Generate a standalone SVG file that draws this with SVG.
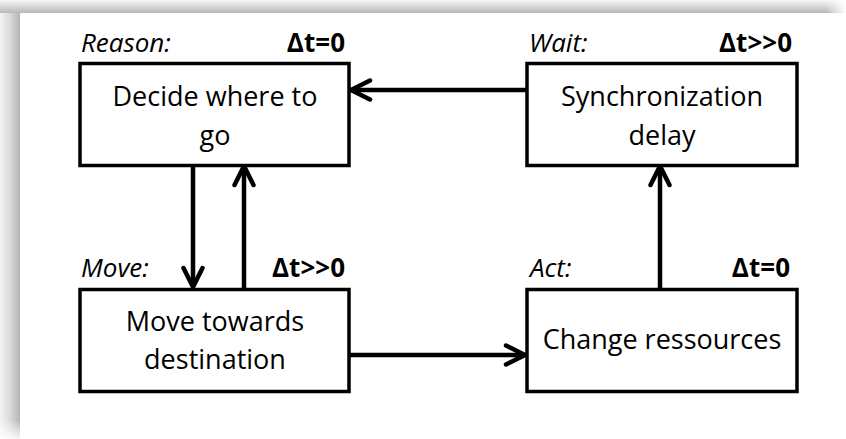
<svg xmlns="http://www.w3.org/2000/svg" width="846" height="439" viewBox="0 0 846 439">
  <defs>
    <linearGradient id="bandTop" x1="0" y1="0" x2="0" y2="1">
      <stop offset="0" stop-color="#f6f6f6"/>
      <stop offset="0.5" stop-color="#d8d8d8"/>
      <stop offset="1" stop-color="#b8b8b8"/>
    </linearGradient>
    <linearGradient id="bandLeft" x1="0" y1="0" x2="1" y2="0">
      <stop offset="0" stop-color="#f4f4f4"/>
      <stop offset="0.5" stop-color="#dadada"/>
      <stop offset="1" stop-color="#b4b4b4"/>
    </linearGradient>
    <linearGradient id="fadeRight" x1="0" y1="0" x2="1" y2="0">
      <stop offset="0" stop-color="#fff" stop-opacity="0"/>
      <stop offset="1" stop-color="#fff" stop-opacity="1"/>
    </linearGradient>
    <linearGradient id="fadeBottom" x1="0" y1="0" x2="0" y2="1">
      <stop offset="0" stop-color="#fff" stop-opacity="0"/>
      <stop offset="1" stop-color="#fff" stop-opacity="0.9"/>
    </linearGradient>
    <marker id="head" viewBox="-22 -12 24 24" markerWidth="24" markerHeight="24" refX="-1" refY="0" orient="auto" markerUnits="userSpaceOnUse">
      <path d="M-19,-9.5 L0,0 L-19,9.5" fill="none" stroke="#000" stroke-width="4.5" stroke-linecap="round" stroke-linejoin="round"/>
    </marker>
    <style>
      .box { fill: #fff; stroke: #000; stroke-width: 3.5; }
      .body { font-family: "Open Sans", "Liberation Sans", sans-serif; font-size: 27px; fill: #000; text-anchor: middle; }
      .tag { font-family: "Open Sans", "Liberation Sans", sans-serif; font-size: 26px; font-style: italic; fill: #000; }
      .dt { font-family: "Open Sans", "Liberation Sans", sans-serif; font-size: 26px; font-weight: bold; fill: #000; text-anchor: end; }
      .edge { fill: none; stroke: #000; stroke-width: 4.5; marker-end: url(#head); }
    </style>
  </defs>

  <!-- page with shaded top and left edges -->
  <rect width="846" height="439" fill="#fff"/>
  <rect x="0" y="0" width="20" height="439" fill="url(#bandLeft)"/>
  <rect x="0" y="0" width="846" height="13" fill="url(#bandTop)"/>
  <rect x="826" y="0" width="20" height="13" fill="url(#fadeRight)"/>
  <rect x="0" y="420" width="20" height="19" fill="url(#fadeBottom)"/>

  <!-- connectors -->
  <g id="connectors">
    <path class="edge" d="M527,90 L352,90"/>
    <path class="edge" d="M193,166 L193,286"/>
    <path class="edge" d="M244,289 L244,167"/>
    <path class="edge" d="M349,355 L524,355"/>
    <path class="edge" d="M660,289 L660,167"/>
  </g>

  <g id="reason">
    <rect class="box" x="80" y="63.5" width="269" height="102"/>
    <text class="tag" x="81" y="52">Reason:</text>
    <text class="dt" x="345" y="52">Δt=0</text>
    <text class="body" x="215" y="106">Decide where to</text>
    <text class="body" x="215" y="145">go</text>
  </g>

  <g id="wait">
    <rect class="box" x="527" y="63.5" width="270" height="102"/>
    <text class="tag" x="529" y="52">Wait:</text>
    <text class="dt" x="792" y="52">Δt&gt;&gt;0</text>
    <text class="body" x="662" y="106">Synchronization</text>
    <text class="body" x="662" y="145">delay</text>
  </g>

  <g id="move">
    <rect class="box" x="80" y="289.5" width="269" height="102"/>
    <text class="tag" x="81" y="277">Move:</text>
    <text class="dt" x="345" y="277">Δt&gt;&gt;0</text>
    <text class="body" x="215" y="331">Move towards</text>
    <text class="body" x="215" y="369">destination</text>
  </g>

  <g id="act">
    <rect class="box" x="527" y="289.5" width="270" height="102"/>
    <text class="tag" x="530" y="277">Act:</text>
    <text class="dt" x="790" y="277">Δt=0</text>
    <text class="body" x="662" y="349">Change ressources</text>
  </g>
</svg>
